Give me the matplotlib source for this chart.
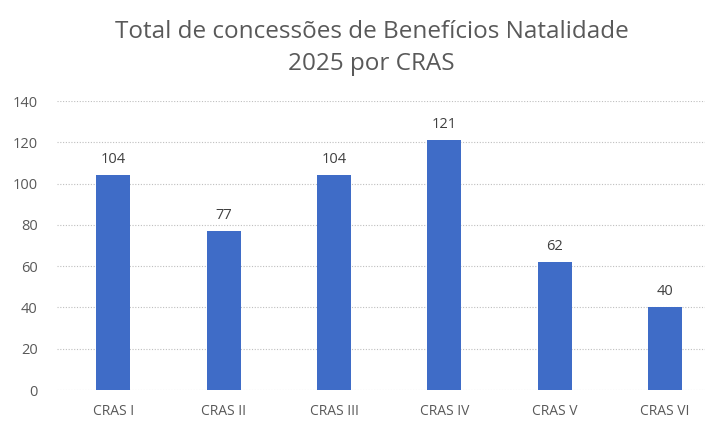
import matplotlib
matplotlib.use("Agg")
import matplotlib.pyplot as plt

categories = ["CRAS I", "CRAS II", "CRAS III", "CRAS IV", "CRAS V", "CRAS VI"]
values = [104, 77, 104, 121, 62, 40]
yticks = [0, 20, 40, 60, 80, 100, 120, 140]

plt.rcParams['font.family'] = ['Open Sans', 'DejaVu Sans']
grey = "#595959"

fig = plt.figure(figsize=(7.12, 4.23), dpi=100)
ax = fig.add_axes([0.080, 0.078, 0.910, 0.683])
x = list(range(len(categories)))
bars = ax.bar(x, values, width=0.31, color="#3F6CC7", zorder=3)
for xi, v in zip(x, values):
    ax.text(xi, v + 4, str(v), ha="center", va="bottom", fontsize=10.5, color="#404040")

ax.set_xlim(-0.51, 5.36)
ax.set_ylim(0, 140)
ax.set_yticks(yticks)
ax.set_xticks(x)
ax.set_xticklabels(categories)
ax.tick_params(axis="both", length=0, labelsize=10, colors=grey)
ax.tick_params(axis="y", labelsize=10.5, pad=14)
ax.tick_params(axis="x", pad=10)
ax.yaxis.grid(True, linestyle=(0, (1, 1.5)), color="#BFBFBF", linewidth=0.8, zorder=0)
for s in ax.spines.values():
    s.set_visible(False)

fig.text(0.522, 0.953, "Total de concessões de Benefícios Natalidade\n2025 por CRAS",
         ha="center", va="top", fontsize=17.5, color=grey, linespacing=1.45)

fig.savefig("out.png", dpi=100)
